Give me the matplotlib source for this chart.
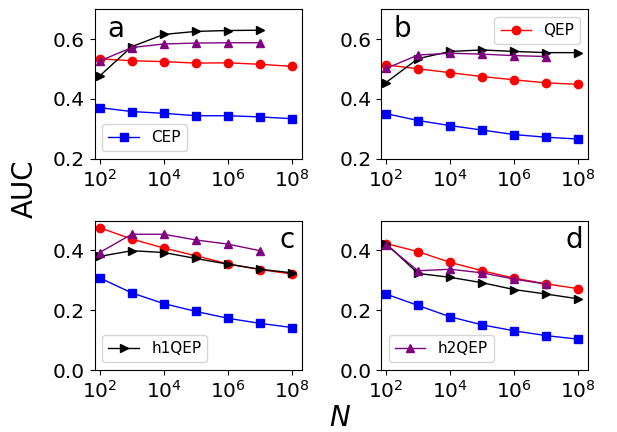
# AUC vs N for the four panels (CEP, QEP, h1QEP, h2QEP)

import matplotlib
matplotlib.use('Agg')
import matplotlib.pyplot as plt
from matplotlib.ticker import NullLocator

N_full = [1e2, 1e3, 1e4, 1e5, 1e6, 1e7, 1e8]
N_short = [1e2, 1e3, 1e4, 1e5, 1e6, 1e7]

# panel a
a_cep = [0.371, 0.358, 0.352, 0.344, 0.344, 0.340, 0.334]
a_qep = [0.534, 0.528, 0.525, 0.520, 0.521, 0.516, 0.509]
a_h1 = [0.477, 0.575, 0.616, 0.626, 0.629, 0.630]
a_h2 = [0.527, 0.572, 0.584, 0.587, 0.588, 0.588]

# panel b
b_cep = [0.351, 0.328, 0.311, 0.296, 0.281, 0.272, 0.266]
b_qep = [0.514, 0.501, 0.488, 0.475, 0.464, 0.454, 0.449]
b_h1 = [0.455, 0.535, 0.559, 0.564, 0.559, 0.555, 0.555]
b_h2 = [0.502, 0.547, 0.553, 0.550, 0.545, 0.542]

# panel c
c_cep = [0.308, 0.258, 0.222, 0.196, 0.173, 0.156, 0.142]
c_qep = [0.476, 0.438, 0.408, 0.382, 0.355, 0.336, 0.321]
c_h1 = [0.380, 0.399, 0.393, 0.373, 0.354, 0.337, 0.325]
c_h2 = [0.393, 0.454, 0.454, 0.435, 0.421, 0.399]

# panel d
d_cep = [0.254, 0.216, 0.178, 0.151, 0.131, 0.115, 0.103]
d_qep = [0.423, 0.396, 0.360, 0.332, 0.307, 0.288, 0.272]
d_h1 = [0.423, 0.323, 0.310, 0.292, 0.269, 0.254, 0.238]
d_h2 = [0.419, 0.332, 0.337, 0.325, 0.304, 0.287]

panel_labels = ['a', 'b', 'c', 'd']
series_names = ['CEP', 'QEP', 'h1QEP', 'h2QEP']
legend_shown = ['CEP', 'QEP', 'h1QEP', 'h2QEP']
legend_loc = ['lower left', 'upper right', 'lower left', 'lower left']


def main():
    fig, axes = plt.subplots(2, 2, figsize=(6.17, 4.32), dpi=100)
    fig.subplots_adjust(left=0.1535, right=0.953, top=0.9785, bottom=0.1435,
                        wspace=0.383, hspace=0.413)

    data = [(a_cep, a_qep, a_h1, a_h2), (b_cep, b_qep, b_h1, b_h2),
            (c_cep, c_qep, c_h1, c_h2), (d_cep, d_qep, d_h1, d_h2)]
    styles = [('b', 's'), ('r', 'o'), ('k', '>'), ('purple', '^')]

    for i, ax in enumerate(axes.flat):
        handles = {}
        for name, vals, (col, mk) in zip(series_names, data[i], styles):
            xs = N_full[:len(vals)]
            h, = ax.plot(xs, vals, color=col, marker=mk, lw=1, ms=6, label=name)
            handles[name] = h
        ax.set_xscale('log')
        ax.set_xlim(70, 2e8)
        ax.set_xticks([1e2, 1e4, 1e6, 1e8])
        ax.xaxis.set_minor_locator(NullLocator())
        if i < 2:
            ax.set_ylim(0.2, 0.7)
            ax.set_yticks([0.2, 0.4, 0.6])
        else:
            ax.set_ylim(0.0, 0.5)
            ax.set_yticks([0.0, 0.2, 0.4])
        ax.tick_params(labelsize=14.5)

        h = handles[legend_shown[i]]
        ax.legend([h], [legend_shown[i]], loc=legend_loc[i], fontsize=11)

        if i < 2:
            ax.text(0.06, 0.813, panel_labels[i], transform=ax.transAxes,
                    fontsize=20, va='baseline', ha='left')
        else:
            xr = 0.966 if i == 2 else 0.976
            ax.text(xr, 0.815, panel_labels[i], transform=ax.transAxes,
                    fontsize=20, va='baseline', ha='right')

    fig.text(25 / 617, 1 - 189 / 432, 'AUC', rotation=90, fontsize=20,
             ha='center', va='center')
    fig.text(340 / 617, 1 - 418 / 432, '$N$', fontsize=20,
             ha='center', va='center')

    fig.savefig('out.png', dpi=100)


if __name__ == '__main__':
    main()
